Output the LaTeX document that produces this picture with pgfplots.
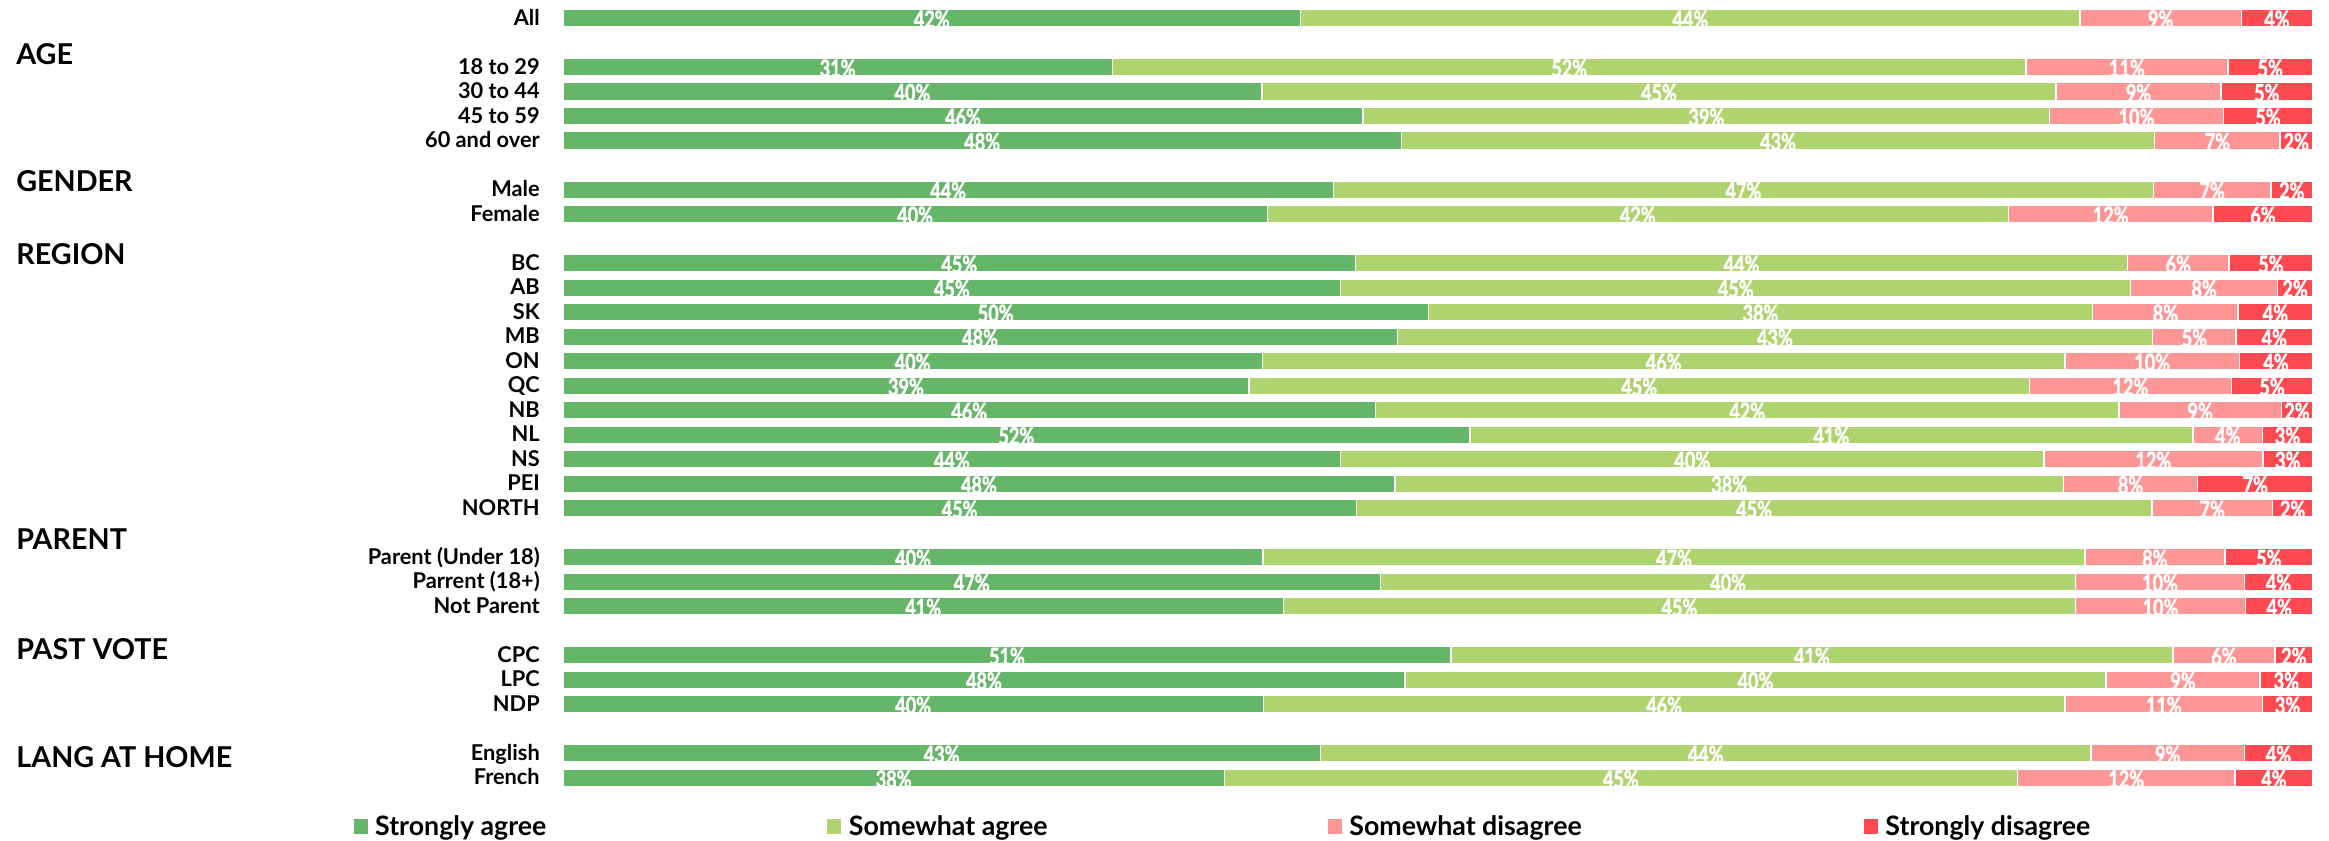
\documentclass[border=0pt]{standalone}
\usepackage{fontspec}
\setmainfont{Lato}
\newfontfamily\condfont{Lato}[UprightFont={* Bold}, FakeStretch=0.76, FakeBold=1.6]
\usepackage{pgfplots}
\usepackage{pgfplotstable}
\pgfplotsset{compat=1.18}

\definecolor{sagree}{HTML}{66B66A}
\definecolor{wagree}{HTML}{AFD46F}
\definecolor{wdis}{HTML}{FF9696}
\definecolor{sdis}{HTML}{FF4A52}

% y = -row; segment lengths (share of bar, %) and printed labels
\pgfplotstableread{
y   sa    wa    wd    sd   lsa lwa lwd lsd
0   42.16 44.54 9.22  4.08 42  44  9   4
-2  31.40 52.22 11.53 4.85 31  52  11  5
-3  39.95 45.38 9.43  5.23 40  45  9   5
-4  45.73 39.24 9.92  5.11 46  39  10  5
-5  47.92 43.05 7.17  1.85 48  43  7   2
-7  44.03 46.87 6.71  2.39 44  47  7   2
-8  40.25 42.35 11.71 5.69 40  42  12  6
-10 45.30 44.12 5.79  4.80 45  44  6   5
-11 44.45 45.15 8.39  2.01 45  45  8   2
-12 49.46 37.97 8.31  4.26 50  38  8   4
-13 47.68 43.18 4.76  4.37 48  43  5   4
-14 39.97 45.87 9.97  4.19 40  46  10  4
-15 39.21 44.60 11.55 4.64 39  45  12  5
-16 46.44 42.49 9.28  1.78 46  42  9   2
-17 51.83 41.33 3.98  2.85 52  41  4   3
-18 44.45 40.19 12.51 2.85 44  40  12  3
-19 47.55 38.21 7.66  6.59 48  38  8   7
-20 45.34 45.47 6.90  2.29 45  45  7   2
-22 40.02 46.96 8.00  5.03 40  47  8   5
-23 46.72 39.74 9.63  3.91 47  40  10  4
-24 41.18 45.25 9.74  3.84 41  45  10  4
-26 50.75 41.26 5.83  2.17 51  41  6   2
-27 48.12 40.07 8.80  3.01 48  40  9   3
-28 40.03 45.81 11.30 2.85 40  46  11  3
-30 43.28 44.06 8.75  3.91 43  44  9   4
-31 37.80 45.32 12.45 4.43 38  45  12  4
}\survey

\pgfplotsset{
  seg/.style={xbar, bar shift=0pt, bar width=0.72, draw=white, line width=0.7pt, fill=#1},
  lab/.style={forget plot, only marks, mark=*, mark size=0pt, mark options={draw=none, fill=none},
    point meta=explicit,
    nodes near coords={\pgfmathprintnumber[fixed,precision=0,assume math mode=true]{\pgfplotspointmeta}\%},
    every node near coord/.style={font=\condfont\fontsize{12}{12}\selectfont, text=white, anchor=center, inner sep=0pt, yshift=-0.6pt}},
}

\begin{document}
\begin{tikzpicture}
\path[use as bounding box] (0,0) rectangle (1176pt,-424.5pt);
\begin{axis}[
    at={(284.25pt,-1.7pt)}, anchor=north west,
    scale only axis,
    width=883.5pt, height=398.5pt,
    xmin=0, xmax=100,
    ymin=-31.6, ymax=0.6,
    axis line style={draw=none},
    xtick=\empty,
    ytick={0,-2,-3,-4,-5,-7,-8,-10,-11,-12,-13,-14,-15,-16,-17,-18,-19,-20,-22,-23,-24,-26,-27,-28,-30,-31},
    yticklabels={All,18 to 29,30 to 44,45 to 59,60 and over,Male,Female,BC,AB,SK,MB,ON,QC,NB,NL,NS,PEI,NORTH,Parent (Under 18),Parrent (18+),Not Parent,CPC,LPC,NDP,English,French},
    major tick length=0pt,
    ytick style={draw=none},
    yticklabel style={font=\fontsize{11}{12}\selectfont\bfseries, inner sep=0pt, anchor=base east, xshift=-11.5pt, yshift=-0.36em},
    clip=false,
    legend image code/.code={\fill[#1, draw=none] (0pt,-3.8pt) rectangle (7.2pt,3.8pt);},
    legend columns=4,
    legend style={at={(0,0)}, anchor=west, xshift=-105.75pt, yshift=-17.2pt, draw=none, fill=none, inner sep=0pt, outer sep=0pt, font=\fontsize{13.5}{15}\selectfont\bfseries, nodes={inner sep=0pt}, /tikz/every even column/.append style={column sep=0pt}},
    legend cell align=left,
    reverse legend,
]
% bars drawn longest first, each one overlapping the next
\addplot[seg=sdis] table[x expr=\thisrow{sa}+\thisrow{wa}+\thisrow{wd}+\thisrow{sd}, y=y] {\survey};
\addlegendentry{\hspace{3.75pt}Strongly disagree}
\addplot[seg=wdis] table[x expr=\thisrow{sa}+\thisrow{wa}+\thisrow{wd}, y=y] {\survey};
\addlegendentry{\makebox[263.5pt][l]{\hspace{3.75pt}Somewhat disagree}}
\addplot[seg=wagree] table[x expr=\thisrow{sa}+\thisrow{wa}, y=y] {\survey};
\addlegendentry{\makebox[245.5pt][l]{\hspace{3.75pt}Somewhat agree}}
\addplot[seg=sagree] table[x=sa, y=y] {\survey};
\addlegendentry{\makebox[232pt][l]{\hspace{3.75pt}Strongly agree}}

% value labels at the middle of each segment
\addplot[lab] table[x expr=\thisrow{sa}/2, y=y, meta=lsa] {\survey};
\addplot[lab] table[x expr=\thisrow{sa}+\thisrow{wa}/2, y=y, meta=lwa] {\survey};
\addplot[lab] table[x expr=\thisrow{sa}+\thisrow{wa}+\thisrow{wd}/2, y=y, meta=lwd] {\survey};
\addplot[lab] table[x expr=\thisrow{sa}+\thisrow{wa}+\thisrow{wd}+\thisrow{sd}/2, y=y, meta=lsd] {\survey};

\begin{scope}[every node/.style={anchor=base west, inner sep=0pt, font=\fontsize{14.5}{16}\selectfont\bfseries, yshift=-0.36em}]
\node at (axis cs:-31.26,-1.61) {AGE};
\node at (axis cs:-31.26,-6.78) {GENDER};
\node at (axis cs:-31.26,-9.77) {REGION};
\node at (axis cs:-31.26,-21.4) {PARENT};
\node at (axis cs:-31.26,-25.9) {PAST VOTE};
\node at (axis cs:-31.26,-30.3) {LANG AT HOME};
\end{scope}
\end{axis}
\end{tikzpicture}
\end{document}
